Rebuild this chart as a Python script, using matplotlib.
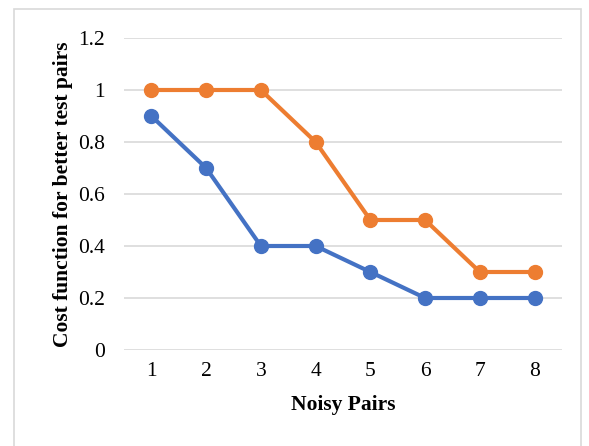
import matplotlib.pyplot as plt
from matplotlib.patches import Rectangle

plt.rcParams['font.family'] = ['Liberation Serif', 'DejaVu Serif']

pairs = [1, 2, 3, 4, 5, 6, 7, 8]
series_orange = [1.0, 1.0, 1.0, 0.8, 0.5, 0.5, 0.3, 0.3]
series_blue = [0.9, 0.7, 0.4, 0.4, 0.3, 0.2, 0.2, 0.2]
y_ticks = [0, 0.2, 0.4, 0.6, 0.8, 1.0, 1.2]
y_tick_labels = ['0', '0.2', '0.4', '0.6', '0.8', '1', '1.2']

fig = plt.figure(figsize=(5.89, 4.46), dpi=100)
fig.patches.append(Rectangle((14 / 589, -0.01), 567 / 589, 1 - 9 / 446 + 0.01,
                             transform=fig.transFigure, fill=False,
                             edgecolor='#D9D9D9', linewidth=1.2))

ax = fig.add_axes([124 / 589, 96 / 446, 438 / 589, 312 / 446])
ax.plot(pairs, series_orange, color='#ED7D31', linewidth=3, marker='o',
        markersize=10, zorder=3)
ax.plot(pairs, series_blue, color='#4472C4', linewidth=3, marker='o',
        markersize=10, zorder=3)

ax.set_xlim(0.5, 8.5)
ax.set_ylim(0, 1.2)
ax.set_xticks(pairs)
ax.set_xticklabels([str(p) for p in pairs])
ax.set_yticks(y_ticks)
ax.set_yticklabels(y_tick_labels)
ax.tick_params(axis='both', length=0, labelsize=15.5, pad=9)
ax.tick_params(axis='y', pad=13.5)

ax.grid(axis='y', color='#D9D9D9', linewidth=1.2)
ax.set_axisbelow(True)
for s in ['top', 'right', 'left', 'bottom']:
    ax.spines[s].set_visible(False)

ax.set_xlabel('Noisy Pairs', fontsize=15.5, fontweight='bold', labelpad=10)
ax.set_ylabel('Cost function for better test pairs', fontsize=15.5,
              fontweight='bold', labelpad=3.5)

fig.savefig('out.png', dpi=100)
